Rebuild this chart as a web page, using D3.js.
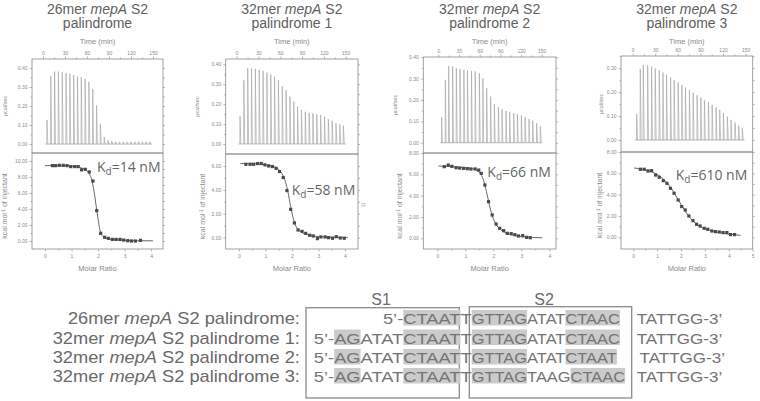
<!DOCTYPE html>
<html>
<head>
<meta charset="utf-8">
<script src="https://cdn.jsdelivr.net/npm/d3@7"></script>
<style>
  body { margin: 0; background: #fff; }
  svg { display: block; font-family: "Liberation Sans", Arial, sans-serif; }
</style>
</head>
<body>
<svg id="chart" width="760" height="401"></svg>
<script>
// ---- data ----
const titleNames = ["26mer", "32mer", "32mer", "32mer"];
const titleSubs = ["palindrome", "palindrome 1", "palindrome 2", "palindrome 3"];
const kdValues = ["14 nM", "58 nM", "66 nM", "610 nM"];

const timeTicks = [0, 30, 60, 90, 120, 150];
const timeMinor = [15, 45, 75, 105, 135];
const heatTicks = [[0, 0.1, 0.2, 0.3, 0.4], [0, 0.1, 0.2, 0.3, 0.4], [0, 0.1, 0.2, 0.3, 0.4], [0, 0.1, 0.2, 0.3]];
const heatMinor = [0.05, 0.15, 0.25, 0.35];
const dhTicks = [[0, 2, 4, 6, 8, 10], [0, 2, 4, 6], [0, 2, 4, 6, 8], [0, 2, 4, 6, 8]];
const dhMinor = [1, 3, 5, 7, 9];
const ratioTicks = [[0, 1, 2, 3, 4], [0, 1, 2, 3, 4], [0, 1, 2, 3, 4], [0, 1, 2, 3, 4, 5]];
const ratioMinor = [0.5, 1.5, 2.5, 3.5, 4.5];

// raw heat: injection time (min) and peak height (ucal/sec)
const p1Time = [5.4, 10.6, 15.8, 21, 26.2, 31.4, 36.6, 41.8, 47, 52.2, 57.4, 62.6, 67.8, 73, 78.2, 83.4, 88.6, 93.8, 99, 104.2, 109.4, 114.6, 119.8, 125, 130.2, 135.4, 140.6, 145.8];
const p1Heat = [0.126, 0.356, 0.381, 0.381, 0.377, 0.374, 0.370, 0.363, 0.356, 0.351, 0.342, 0.327, 0.288, 0.203, 0.105, 0.038, 0.020, 0.015, 0.013, 0.012, 0.012, 0.012, 0.012, 0.012, 0.012, 0.012, 0.012, 0.012];
const p2Time = [4.6, 9.9, 15.2, 20.4, 25.7, 31, 36.3, 41.6, 46.9, 52.1, 57.4, 62.7, 68, 73.3, 78.5, 83.8, 89.1, 94.4, 99.7, 104.9, 110.2, 115.5, 120.8, 126.1, 131.3, 136.6, 141.9, 146.8];
const p2Heat = [0.138, 0.32, 0.38, 0.38, 0.377, 0.372, 0.367, 0.358, 0.348, 0.338, 0.32, 0.29, 0.27, 0.238, 0.213, 0.187, 0.171, 0.162, 0.157, 0.154, 0.149, 0.146, 0.137, 0.124, 0.117, 0.104, 0.099, 0.092];
const p3Time = [4.8, 10.2, 15.0, 20.8, 26.1, 31.4, 37.1, 42.3, 48.1, 53.5, 59.5, 64.6, 70.1, 75.8, 81.3, 87.1, 92.4, 98.2, 103.5, 109.4, 114.7, 120.5, 125.8, 131.6, 136.9, 142.7, 148.0];
const p3Heat = [0.119, 0.294, 0.359, 0.356, 0.348, 0.344, 0.341, 0.338, 0.336, 0.334, 0.325, 0.302, 0.255, 0.216, 0.181, 0.166, 0.156, 0.148, 0.144, 0.138, 0.133, 0.127, 0.119, 0.111, 0.103, 0.091, 0.078];
const p4Time = [5.3, 10.1, 14.1, 19.9, 25.1, 30.0, 35.3, 40.2, 45.0, 50.3, 55.1, 60.4, 65.3, 70.1, 75.4, 80.3, 85.6, 90.5, 95.3, 100.6, 105.5, 110.8, 115.6, 120.5, 125.8, 130.6, 135.9, 140.8, 145.6];
const p4Heat = [0.109, 0.296, 0.314, 0.3125, 0.307, 0.299, 0.29, 0.282, 0.272, 0.262, 0.251, 0.241, 0.23, 0.219, 0.209, 0.198, 0.187, 0.177, 0.167, 0.158, 0.147, 0.137, 0.126, 0.112, 0.098, 0.084, 0.073, 0.059, 0.049];

// integrated heats: molar ratio and kcal/mol of injectant
const p1Ratio = [0.28, 0.40, 0.54, 0.69, 0.83, 0.97, 1.12, 1.25, 1.38, 1.52, 1.67, 1.81, 1.95, 2.10, 2.25, 2.39, 2.54, 2.68, 2.83, 2.97, 3.12, 3.26, 3.41, 3.60];
const p1Dh = [9.42, 9.42, 9.46, 9.46, 9.42, 9.3, 9.3, 9.3, 8.9, 8.96, 8.63, 7.5, 3.8, 0.96, 0.46, 0.33, 0.2, 0.2, 0.2, 0.12, 0.04, 0, 0, 0.08];
const p2Ratio = [0.26, 0.42, 0.55, 0.70, 0.84, 0.98, 1.12, 1.26, 1.40, 1.53, 1.67, 1.81, 1.95, 2.09, 2.23, 2.38, 2.52, 2.67, 2.80, 2.96, 3.09, 3.25, 3.38, 3.53, 3.67, 3.82, 3.97];
const p2Dh = [6.14, 6.14, 6.14, 6.2, 6.2, 6.09, 6.0, 5.95, 5.8, 5.53, 5.03, 3.94, 2.37, 1.23, 0.64, 0.53, 0.36, 0.2, 0.14, -0.08, 0.06, 0.06, 0, -0.05, 0.08, -0.03, -0.05];
const p3Ratio = [0.25, 0.39, 0.52, 0.67, 0.80, 0.94, 1.07, 1.20, 1.35, 1.48, 1.57, 1.70, 1.83, 1.96, 2.10, 2.23, 2.37, 2.50, 2.64, 2.77, 2.90, 3.05, 3.19, 3.32];
const p3Dh = [6.72, 6.87, 6.75, 6.62, 6.59, 6.56, 6.53, 6.5, 6.5, 6.4, 6.09, 5.0, 3.44, 2.19, 1.34, 0.94, 0.72, 0.47, 0.44, 0.34, 0.22, 0.25, 0.09, 0.06];
const p4Ratio = [0.30, 0.46, 0.62, 0.77, 0.94, 1.09, 1.26, 1.41, 1.56, 1.71, 1.88, 2.03, 2.18, 2.33, 2.50, 2.65, 2.80, 2.97, 3.12, 3.29, 3.44, 3.60, 3.76, 3.92, 4.07, 4.24];
const p4Dh = [6.38, 6.38, 6.22, 6.25, 5.84, 5.63, 5.31, 5.06, 4.59, 4.13, 3.5, 2.88, 2.56, 2.0, 1.56, 1.22, 1.06, 0.84, 0.75, 0.59, 0.53, 0.5, 0.44, 0.44, 0.25, 0.25];

// fitted curves, read as points
const p1FitRatio = [0, 0.5, 1.0, 1.3, 1.5, 1.65, 1.75, 1.85, 1.92, 2.0, 2.07, 2.15, 2.3, 2.6, 3.0, 3.5, 4.07];
const p1FitDh = [9.42, 9.42, 9.35, 9.2, 8.95, 8.5, 7.8, 6.2, 4.6, 2.8, 1.4, 0.7, 0.35, 0.18, 0.08, 0.03, 0.02];
const p2FitRatio = [0.05, 0.5, 1.0, 1.3, 1.5, 1.65, 1.75, 1.85, 1.95, 2.05, 2.15, 2.3, 2.5, 2.8, 3.2, 3.6, 4.1];
const p2FitDh = [6.2, 6.19, 6.1, 5.95, 5.7, 5.25, 4.7, 3.8, 2.6, 1.6, 0.95, 0.55, 0.3, 0.14, 0.06, 0.03, 0.02];
const p3FitRatio = [0.04, 0.5, 1.0, 1.3, 1.45, 1.58, 1.68, 1.78, 1.88, 1.98, 2.1, 2.25, 2.45, 2.7, 3.0, 3.4, 3.75];
const p3FitDh = [6.78, 6.72, 6.62, 6.5, 6.3, 5.9, 5.2, 4.1, 2.9, 2.0, 1.3, 0.85, 0.5, 0.3, 0.17, 0.08, 0.05];
const p4FitRatio = [0.04, 0.4, 0.8, 1.1, 1.4, 1.65, 1.85, 2.05, 2.25, 2.45, 2.65, 2.9, 3.2, 3.5, 3.9, 4.2, 4.49];
const p4FitDh = [6.5, 6.38, 6.12, 5.75, 5.15, 4.4, 3.65, 2.9, 2.2, 1.65, 1.22, 0.9, 0.65, 0.48, 0.33, 0.25, 0.18];

// sequence table
const rowNames = ["26mer", "32mer", "32mer", "32mer"];
const rowSuffix = ["palindrome:", "palindrome 1:", "palindrome 2:", "palindrome 3:"];
const seqRows = [
  [["5\u2019-", 0], ["CTAAT", 1], ["T", 0], ["GTTAG", 1], ["ATAT", 0], ["CTAAC", 1]],
  [["5\u2019-", 0], ["AG", 1], ["ATAT", 0], ["CTAAT", 1], ["T", 0], ["GTTAG", 1], ["ATAT", 0], ["CTAAC", 1]],
  [["5\u2019-", 0], ["AG", 1], ["ATAT", 0], ["CTAAT", 1], ["T", 0], ["GTTAG", 1], ["ATAT", 0], ["CTAAT", 1]],
  [["5\u2019-", 0], ["AG", 1], ["ATAT", 0], ["CTAAT", 1], ["T", 0], ["GTTAG", 1], ["TAAG", 0], ["CTAAC", 1]]
];
const seqTail = "TATTGG-3\u2019";
const siteNames = ["S1", "S2"];

// ---- layout of the four ITC panels ----
const panels = [
  { x0: 32, x1: 163, top: 59, mid: 153, bottom: 249, time: [-15, 163.6], heat: [-0.047, 0.447], ratio: [-0.49, 4.45], dh: [-1, 11], kd: [97, 172], labU: 5, labL: 5 },
  { x0: 225.7, x1: 358, top: 59, mid: 154, bottom: 249, time: [-15.1, 166.9], heat: [-0.0502, 0.4266], ratio: [-0.5, 4.49], dh: [-0.95, 7], kd: [291.7, 195], labU: 197, labL: 203 },
  { x0: 423.3, x1: 556, top: 57, mid: 153, bottom: 249, time: [-21.8, 170.7], heat: [-0.048, 0.401], ratio: [-0.5, 4.24], dh: [-1, 8], kd: [487.3, 177], labU: 395, labL: 400 },
  { x0: 621, x1: 752.7, top: 56, mid: 152, bottom: 249, time: [-15.5, 159.4], heat: [-0.05, 0.351], ratio: [-0.51, 5.0], dh: [-1.1, 8], kd: [675.7, 180], labU: 601, labL: 600 }
];
const heatData = [[p1Time, p1Heat], [p2Time, p2Heat], [p3Time, p3Heat], [p4Time, p4Heat]];
const dhData = [[p1Ratio, p1Dh], [p2Ratio, p2Dh], [p3Ratio, p3Dh], [p4Ratio, p4Dh]];
const fitData = [[p1FitRatio, p1FitDh], [p2FitRatio, p2FitDh], [p3FitRatio, p3FitDh], [p4FitRatio, p4FitDh]];

const axisGrey = "#8a8a8a";
const svg = d3.select("#chart");

// style a d3 axis group: thin grey ticks, tiny labels, no domain line
function styleAxis(g, size) {
  g.select(".domain").remove();
  g.attr("font-family", "'Liberation Sans', Arial, sans-serif").attr("font-size", size || 5);
  g.selectAll("line").attr("stroke", axisGrey).attr("stroke-width", 0.6);
  g.selectAll("text").attr("fill", axisGrey);
}

function inDomain(vals, dom) {
  return vals.filter(v => v > Math.min(dom[0], dom[1]) && v < Math.max(dom[0], dom[1]));
}

panels.forEach((p, i) => {
  const g = svg.append("g");
  const xT = d3.scaleLinear().domain(p.time).range([p.x0, p.x1]);
  const yU = d3.scaleLinear().domain(p.heat).range([p.mid, p.top]);
  const xM = d3.scaleLinear().domain(p.ratio).range([p.x0, p.x1]);
  const yL = d3.scaleLinear().domain(p.dh).range([p.bottom, p.mid]);
  const f2 = d3.format(".2f");

  // title (one text run, italic gene name)
  const title = g.append("text")
    .attr("x", (p.x0 + p.x1) / 2).attr("y", 13.5)
    .attr("text-anchor", "middle").attr("font-size", 14).attr("fill", "#606060");
  title.append("tspan").text(titleNames[i] + " ");
  title.append("tspan").attr("font-style", "italic").text("mepA");
  title.append("tspan").text("\u00a0S2");
  g.append("text")
    .attr("x", (p.x0 + p.x1) / 2).attr("y", 27.5)
    .attr("text-anchor", "middle").attr("font-size", 14).attr("fill", "#606060")
    .text(titleSubs[i]);

  // top time axis
  g.append("g").attr("transform", `translate(0,${p.top})`)
    .call(d3.axisTop(xT).tickValues(timeTicks).tickSize(2.5).tickPadding(2).tickFormat(d3.format("d")))
    .call(a => styleAxis(a));
  g.append("g").attr("transform", `translate(0,${p.top})`)
    .call(d3.axisTop(xT).tickValues(timeMinor).tickSize(1.5).tickFormat(""))
    .call(a => styleAxis(a));
  g.append("text").attr("x", (p.x0 + p.x1) / 2).attr("y", 43.5)
    .attr("text-anchor", "middle").attr("font-size", 7.5).attr("fill", axisGrey)
    .text("Time (min)");

  // upper y axes
  g.append("g").attr("transform", `translate(${p.x0},0)`)
    .call(d3.axisLeft(yU).tickValues(heatTicks[i]).tickSize(2.5).tickPadding(2).tickFormat(f2))
    .call(a => styleAxis(a));
  g.append("g").attr("transform", `translate(${p.x0},0)`)
    .call(d3.axisLeft(yU).tickValues(inDomain(heatMinor, p.heat)).tickSize(1.5).tickFormat(""))
    .call(a => styleAxis(a));
  g.append("g").attr("transform", `translate(${p.x1},0)`)
    .call(d3.axisRight(yU).tickValues(heatTicks[i].concat(inDomain(heatMinor, p.heat))).tickSize(2).tickFormat(""))
    .call(a => styleAxis(a));
  g.append("text")
    .attr("transform", `translate(${p.labU},${(p.top + p.mid) / 2}) rotate(-90)`)
    .attr("text-anchor", "middle").attr("dy", "0.35em")
    .attr("font-size", 5.5).attr("fill", axisGrey).text("\u00b5cal/sec");

  // lower y axes
  g.append("g").attr("transform", `translate(${p.x0},0)`)
    .call(d3.axisLeft(yL).tickValues(dhTicks[i]).tickSize(2.5).tickPadding(2).tickFormat(f2))
    .call(a => styleAxis(a));
  g.append("g").attr("transform", `translate(${p.x0},0)`)
    .call(d3.axisLeft(yL).tickValues(inDomain(dhMinor, p.dh)).tickSize(1.5).tickFormat(""))
    .call(a => styleAxis(a));
  g.append("g").attr("transform", `translate(${p.x1},0)`)
    .call(d3.axisRight(yL).tickValues(dhTicks[i].concat(inDomain(dhMinor, p.dh))).tickSize(2).tickFormat(""))
    .call(a => styleAxis(a));
  const kl = g.append("text")
    .attr("transform", `translate(${p.labL},${(p.mid + p.bottom) / 2 + 5}) rotate(-90)`)
    .attr("text-anchor", "middle").attr("dy", "0.35em")
    .attr("font-size", 7).attr("fill", axisGrey);
  kl.append("tspan").text("kcal mol");
  kl.append("tspan").attr("dy", -2.5).attr("font-size", 4.5).text("-1");
  kl.append("tspan").attr("dy", 2.5).text(" of injectant");

  // bottom molar ratio axis
  g.append("g").attr("transform", `translate(0,${p.bottom})`)
    .call(d3.axisBottom(xM).tickValues(ratioTicks[i]).tickSize(2.5).tickPadding(3).tickFormat(d3.format("d")))
    .call(a => styleAxis(a));
  g.append("g").attr("transform", `translate(0,${p.bottom})`)
    .call(d3.axisBottom(xM).tickValues(inDomain(ratioMinor, p.ratio)).tickSize(1.5).tickFormat(""))
    .call(a => styleAxis(a));
  g.append("text").attr("x", (p.x0 + p.x1) / 2).attr("y", 270.5)
    .attr("text-anchor", "middle").attr("font-size", 7.5).attr("fill", axisGrey)
    .text("Molar Ratio");

  // raw injection spikes
  const [tArr, hArr] = heatData[i];
  g.append("line")
    .attr("x1", xT(tArr[0] - 2)).attr("x2", xT(tArr[tArr.length - 1] + 3))
    .attr("y1", yU(0)).attr("y2", yU(0))
    .attr("stroke", "#9a9a9a").attr("stroke-width", 0.7);
  g.append("g").selectAll("path")
    .data(tArr.map((t, k) => [t, hArr[k]]))
    .join("path")
    .attr("d", d => `M${xT(d[0] - 0.3)},${yU(0)}L${xT(d[0])},${yU(d[1])}L${xT(d[0] + 1.2)},${yU(0)}`)
    .attr("fill", "none").attr("stroke", "#a8a8a8").attr("stroke-width", 0.7);

  // fit curve and integrated points
  const [fr, fd] = fitData[i];
  g.append("path")
    .datum(fr.map((r, k) => [r, fd[k]]))
    .attr("d", d3.line().x(d => xM(d[0])).y(d => yL(d[1])).curve(d3.curveMonotoneX))
    .attr("fill", "none").attr("stroke", "#555").attr("stroke-width", 0.9);
  const [rr, dd] = dhData[i];
  g.append("g").selectAll("rect")
    .data(rr.map((r, k) => [r, dd[k]]))
    .join("rect")
    .attr("x", d => xM(d[0]) - 1.6).attr("y", d => yL(d[1]) - 1.6)
    .attr("width", 3.2).attr("height", 3.2)
    .attr("fill", "#4a4a4a");

  // frames
  g.append("rect").attr("x", p.x0).attr("y", p.top).attr("width", p.x1 - p.x0).attr("height", p.mid - p.top)
    .attr("fill", "none").attr("stroke", axisGrey).attr("stroke-width", 0.8);
  g.append("rect").attr("x", p.x0).attr("y", p.mid).attr("width", p.x1 - p.x0).attr("height", p.bottom - p.mid)
    .attr("fill", "none").attr("stroke", axisGrey).attr("stroke-width", 0.8);

  // Kd label
  const kd = g.append("text")
    .attr("x", p.kd[0]).attr("y", p.kd[1])
    .attr("font-family", "'Open Sans', sans-serif").attr("font-size", 14)
    .attr("fill", "#666")
    .attr("stroke", "#fff").attr("stroke-width", 2).attr("paint-order", "stroke");
  kd.append("tspan").text("K");
  kd.append("tspan").attr("dy", 3).attr("font-size", 10).text("d");
  kd.append("tspan").attr("dy", -3).text("=" + kdValues[i]);
});

// small stray mark next to the second panel
svg.append("rect").attr("x", 362).attr("y", 203.5).attr("width", 3).attr("height", 2.5)
  .attr("fill", "none").attr("stroke", "#aaa").attr("stroke-width", 0.6);

// ---- sequence table ----
const seqFont = 15.5, labelFont = 16, labelScale = 1.14;
const preScale = 1.18, postScale = 1.06;   // letter widths before / after the GTTAG anchor
const rowBase = [324, 343.5, 363, 382];
const anchorX = 471.7;
const tailX = [636.7, 636.7, 639.5, 636.7];

function textWidth(str, size, italic) {
  const t = svg.append("text").attr("font-size", size).attr("font-style", italic ? "italic" : "normal").text(str);
  const w = t.node().getComputedTextLength();
  t.remove();
  return w;
}

// S1 / S2 boxes and titles
svg.append("rect").attr("x", 306).attr("y", 307.7).attr("width", 153.3).attr("height", 90.3)
  .attr("fill", "none").attr("stroke", "#8a8a8a").attr("stroke-width", 1.3);
svg.append("rect").attr("x", 469.3).attr("y", 306.7).attr("width", 162.4).attr("height", 91.3)
  .attr("fill", "none").attr("stroke", "#8a8a8a").attr("stroke-width", 1.3);
svg.selectAll("text.site").data(siteNames).join("text")
  .attr("class", "site")
  .attr("x", (d, k) => [381, 544][k]).attr("y", 304.5)
  .attr("text-anchor", "middle").attr("font-size", 16).attr("fill", "#6a6a6a")
  .text(d => d);

seqRows.forEach((row, r) => {
  const y = rowBase[r];

  // row label, right aligned
  const parts = [[rowNames[r] + " ", false], ["mepA", true], ["\u00a0S2 " + rowSuffix[r], false]];
  const labW = d3.sum(parts, d => textWidth(d[0], labelFont, d[1])) * labelScale;
  const lab = svg.append("text")
    .attr("transform", `translate(${295 - labW},${y}) scale(${labelScale},1)`)
    .attr("font-size", labelFont).attr("fill", "#6a6a6a");
  parts.forEach(d => lab.append("tspan").attr("font-style", d[1] ? "italic" : "normal").text(d[0]));

  // sequence segments, aligned on GTTAG
  const anchorIdx = row.findIndex(s => s[0] === "GTTAG");
  const scales = row.map((s, k) => k < anchorIdx ? preScale : postScale);
  const widths = row.map((s, k) => textWidth(s[0], seqFont, false) * scales[k]);
  let x = anchorX - d3.sum(widths.slice(0, anchorIdx));
  row.forEach((s, k) => {
    if (s[1]) {
      svg.append("rect").attr("x", x).attr("y", y - 14).attr("width", widths[k]).attr("height", 15.5)
        .attr("fill", "#cbcbcb");
    }
    svg.append("text")
      .attr("transform", `translate(${x},${y}) scale(${scales[k]},1)`)
      .attr("font-size", seqFont).attr("fill", "#747474")
      .text(s[0]);
    x += widths[k];
  });
  svg.append("text")
    .attr("transform", `translate(${tailX[r]},${y}) scale(${postScale + 0.04},1)`)
    .attr("font-size", seqFont).attr("fill", "#747474")
    .text(seqTail);
});
</script>
</body>
</html>
